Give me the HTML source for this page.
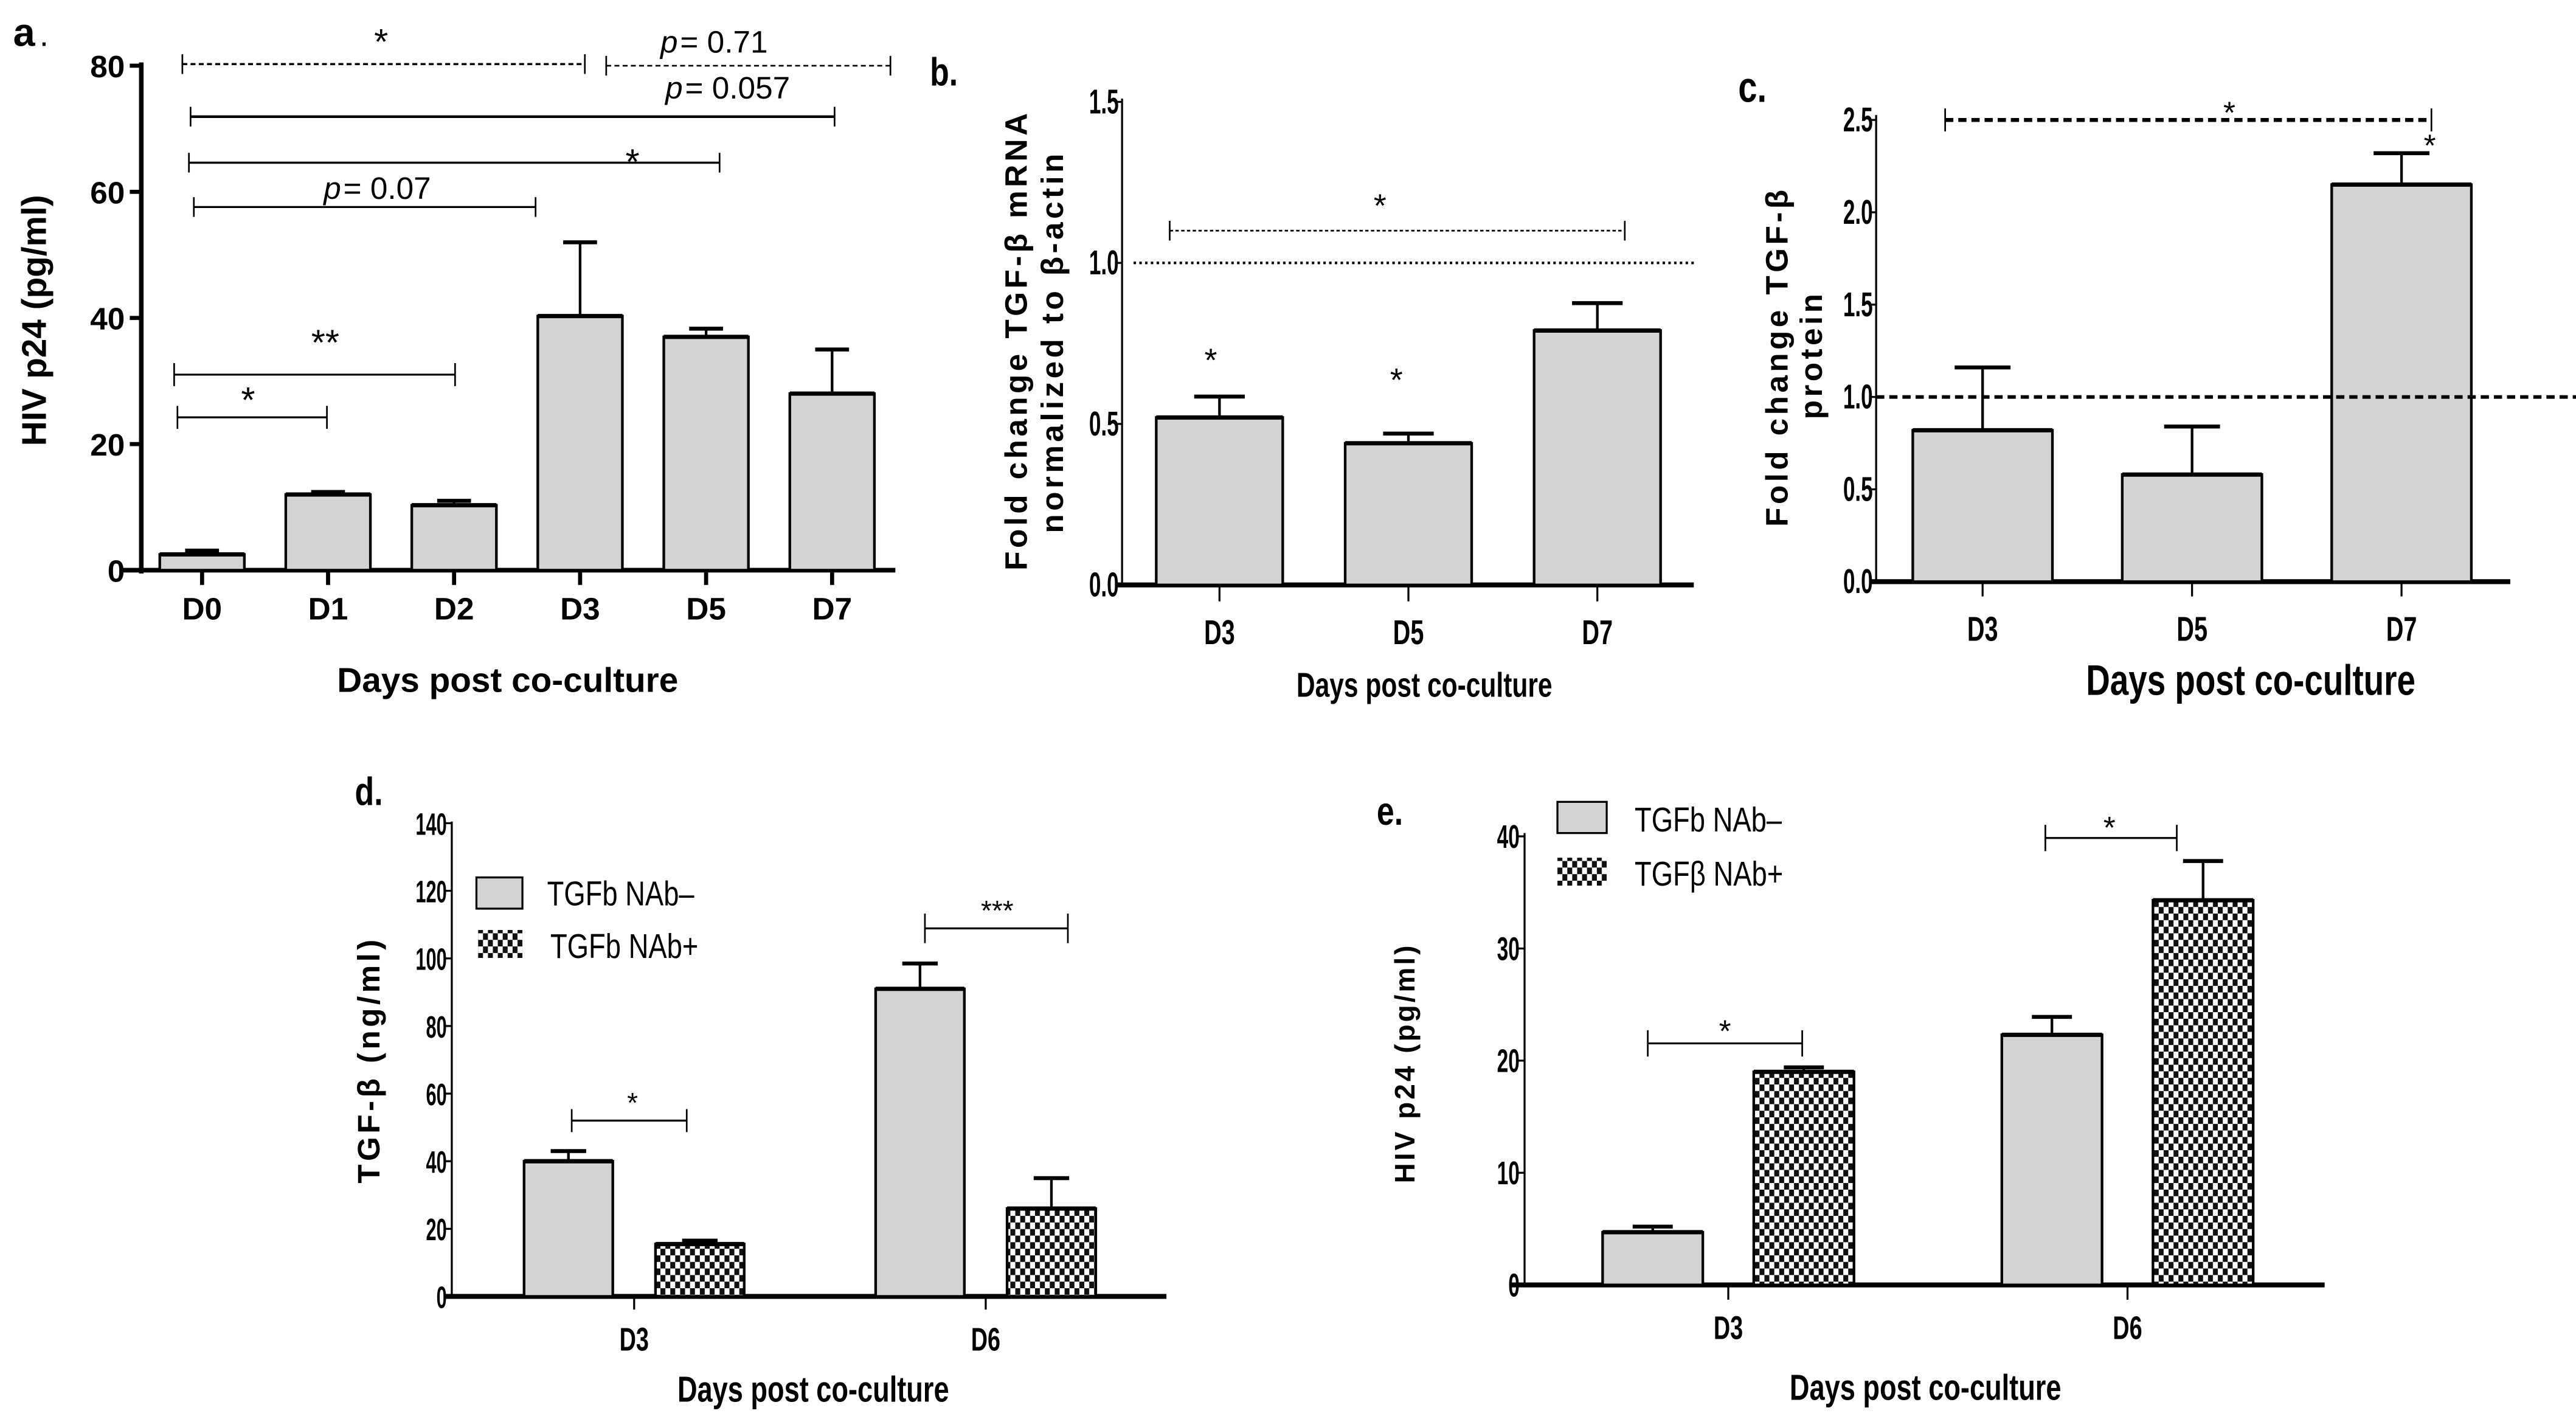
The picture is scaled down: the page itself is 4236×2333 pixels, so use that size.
<!DOCTYPE html>
<html><head><meta charset="utf-8"><style>
html,body{margin:0;padding:0;background:#fff;}
svg{display:block;}
text{font-family:"Liberation Sans",sans-serif;fill:#000;}
</style></head><body>
<svg id="fig" xmlns="http://www.w3.org/2000/svg" width="4236" height="2333" viewBox="0 0 1568 863.6" preserveAspectRatio="none">
<defs>
<pattern id="chk" width="6" height="8" patternUnits="userSpaceOnUse">
<rect width="6" height="8" fill="#fff"/><rect x="0" y="0" width="3" height="4" fill="#111"/><rect x="3" y="4" width="3" height="4" fill="#111"/>
</pattern>
</defs>
</svg>
<script>
// ---- Panel a data ----
const aCats = ["D0","D1","D2","D3","D5","D7"];
const aValues = [2.5, 12, 10.3, 40.3, 37, 28];
const aErrors = [3.1, 12.4, 11, 52, 38.3, 35];
const aTicks = [0,20,40,60,80];
// ---- Panel b data ----
const bCats = ["D3","D5","D7"];
const bValues = [0.52, 0.44, 0.79];
const bErrors = [0.585, 0.47, 0.875];
const bTicks = ["0.0","0.5","1.0","1.5"];
// ---- Panel c data ----
const cCats = ["D3","D5","D7"];
const cValues = [0.82, 0.58, 2.15];
const cErrors = [1.16, 0.84, 2.32];
const cTicks = ["0.0","0.5","1.0","1.5","2.0","2.5"];
// ---- Panel d data ----
const dCats = ["D3","D6"];
const dNeg = [40, 91];
const dNegErr = [43, 98.5];
const dPos = [15.5, 26];
const dPosErr = [16.5, 35];
const dTicks = [0,20,40,60,80,100,120,140];
// ---- Panel e data ----
const eCats = ["D3","D6"];
const eNeg = [4.7, 22.3];
const eNegErr = [5.2, 23.9];
const ePos = [19, 34.3];
const ePosErr = [19.4, 37.8];
const eTicks = [0,10,20,30,40];

const NS = "http://www.w3.org/2000/svg";
const svg = document.getElementById('fig');
function el(tag, attrs, parent, txt){
  const e = document.createElementNS(NS, tag);
  for (const k in attrs) e.setAttribute(k, attrs[k]);
  if (txt !== undefined) e.textContent = txt;
  (parent||svg).appendChild(e);
  return e;
}
function grp(name){
  const g = el('g', {});
  
  
  return g;
}
function txt(g, x, y, s, size, opts){
  opts = opts||{};
  const t = el('text', {x:x, y:y, 'font-size':size, 'text-anchor':opts.anchor||'middle', 'font-weight':opts.bold?'bold':'normal'}, g, s);
  if (opts.rot) t.setAttribute('transform', 'rotate(-90 '+x+' '+y+')');
  if (opts.sx) t.setAttribute('transform', 'translate('+x+' '+y+') scale('+opts.sx+' 1) translate('+(-x)+' '+(-y)+')');
  if (opts.ls) t.setAttribute('letter-spacing', opts.ls);
  if (opts.italic) t.setAttribute('font-style','italic');
  
  
  return t;
}
function line(g, x1,y1,x2,y2, w, dash, name){
  const l = el('line', {x1:x1,y1:y1,x2:x2,y2:y2,stroke:'#000','stroke-width':w}, g);
  if (dash) l.setAttribute('stroke-dasharray', dash);
  
  
  return l;
}
function scaleY(y0, yTop, max){ return v => y0 - v/max*(y0-yTop); }

function drawBar(g, cx, w, v, err, Y, fill, name){
  const r = el('rect', {x:cx-w/2, y:Y(v), width:w, height:Y(0)-Y(v), fill:fill, stroke:'#000','stroke-width':1.6}, g);
  
  
  line(g, cx-w/2, Y(v), cx+w/2, Y(v), 2.6, null, name+'-top');
  line(g, cx, Y(v), cx, Y(err), 1.6, null, name+'-error-bar');
  line(g, cx-w*0.2, Y(err), cx+w*0.2, Y(err), 2.4, null, name+'-error-cap');
}
function bracket(g, x1, x2, y, h, w, dash, name){
  line(g, x1, y, x2, y, w, dash, name);
  line(g, x1, y-h, x1, y+h, 1, null, name+'-tick-left');
  line(g, x2, y-h, x2, y+h, 1, null, name+'-tick-right');
}

// ===== Panel a =====
(function(){
  const g = grp('panel-a');
  const Y = scaleY(347, 40, 80);
  const axX = 86, x0 = 123, step = 76.7, bw = 51.5;
  txt(g, 8, 28, 'a', 24, {anchor:'start', bold:true, name:'panel-label-a'});
  txt(g, 24, 28, '.', 20, {anchor:'start', name:'panel-label-a-dot'});
  line(g, axX, 38, axX, 349, 2.8, null, 'y-axis');
  line(g, 74, 347, 545, 347, 2.8, null, 'x-axis');
  aTicks.forEach(t => {
    line(g, axX-7, Y(t), axX, Y(t), 2.5, null, 'y-tick');
    txt(g, axX-10, Y(t)+7, String(t), 19, {anchor:'end', bold:true, name:'y-tick-label'});
  });
  aCats.forEach((c,i) => {
    const cx = x0 + i*step;
    drawBar(g, cx, bw, aValues[i], aErrors[i], Y, '#d3d3d3', 'bar-'+c.toLowerCase());
    line(g, cx, 347, cx, 356, 2.5, null, 'x-tick');
    txt(g, cx, 377, c, 19, {bold:true, name:'x-tick-label'});
  });
  txt(g, 28, 195, 'HIV p24 (pg/ml)', 21, {bold:true, rot:true, name:'y-axis-title'});
  txt(g, 309, 421, 'Days post co-culture', 21, {bold:true, name:'x-axis-title'});
  bracket(g, 111, 356, 39, 6, 1.3, '3 2', 'sig-bracket-d0-d3');
  txt(g, 232, 33, '*', 22, {name:'sig-star'});
  bracket(g, 369, 542, 40, 6, 1, '3 2', 'sig-bracket-d3-d7');
  txt(g, 402, 32, 'p', 19, {italic:true, anchor:'start', name:'p-label'});
  txt(g, 414, 32, ' = 0.71', 19, {anchor:'start', name:'p-value'});
  bracket(g, 116, 508, 71, 6, 1.6, null, 'sig-bracket-d0-d7');
  txt(g, 405, 60, 'p', 19, {italic:true, anchor:'start', name:'p-label'});
  txt(g, 417, 60, ' = 0.057', 19, {anchor:'start', name:'p-value'});
  bracket(g, 115, 438, 99, 6, 1.3, null, 'sig-bracket-d0-d5');
  txt(g, 385, 106, '*', 22, {name:'sig-star'});
  bracket(g, 118, 326, 126, 6, 1.2, null, 'sig-bracket-d0-d3b');
  txt(g, 197, 121, 'p', 19, {italic:true, anchor:'start', name:'p-label'});
  txt(g, 209, 121, ' = 0.07', 19, {anchor:'start', name:'p-value'});
  bracket(g, 106, 277, 228, 7, 1.2, null, 'sig-bracket-d0-d2');
  txt(g, 198, 216, '**', 22, {name:'sig-star'});
  bracket(g, 108, 199, 254, 7, 1.2, null, 'sig-bracket-d0-d1');
  txt(g, 151, 251, '*', 22, {name:'sig-star'});
})();

// ===== Panel b =====
(function(){
  const g = grp('panel-b');
  const Y = scaleY(356, 62, 1.5);
  const axX = 683, x0 = 742.3, step = 115, bw = 77;
  txt(g, 566, 52, 'b.', 24, {anchor:'start', bold:true, sx:0.8, name:'panel-label-b'});
  line(g, axX, 60, axX, 357, 1.2, null, 'y-axis');
  line(g, 680, 356, 1031, 356, 3, null, 'x-axis');
  bTicks.forEach(t => {
    line(g, axX-4, Y(+t), axX, Y(+t), 1.2, null, 'y-tick');
    txt(g, axX-2, Y(+t)+7, t, 21, {anchor:'end', bold:true, sx:0.62, name:'y-tick-label'});
  });
  bCats.forEach((c,i) => {
    const cx = x0 + i*step;
    drawBar(g, cx, bw, bValues[i], bErrors[i], Y, '#d3d3d3', 'bar-'+c.toLowerCase());
    line(g, cx, 356, cx, 366, 1.2, null, 'x-tick');
    txt(g, cx, 392, c, 21, {bold:true, sx:0.7, name:'x-tick-label'});
  });
  line(g, 690, Y(1.0), 1031, Y(1.0), 1.6, '1.5 2', 'reference-line');
  bracket(g, 712, 989, Y(1.1), 6, 1, '2 1.5', 'sig-bracket-d3-d7');
  txt(g, 840, 132, '*', 20, {name:'sig-star'});
  txt(g, 737, 226, '*', 20, {name:'sig-star'});
  txt(g, 850, 238, '*', 20, {name:'sig-star'});
  txt(g, 625, 207, 'Fold change TGF-β mRNA', 19, {bold:true, rot:true, ls:2, name:'y-axis-title'});
  txt(g, 647, 208, 'normalized to β-actin', 19, {bold:true, rot:true, ls:2, name:'y-axis-title-line2'});
  txt(g, 867, 424, 'Days post co-culture', 21, {bold:true, sx:0.75, name:'x-axis-title'});
})();

// ===== Panel c =====
(function(){
  const g = grp('panel-c');
  const Y = scaleY(354, 73, 2.5);
  const axX = 1142, x0 = 1206.8, step = 127.5, bw = 85;
  txt(g, 1058, 62, 'c.', 26, {anchor:'start', bold:true, sx:0.8, name:'panel-label-c'});
  line(g, axX, 70, axX, 355, 1.2, null, 'y-axis');
  line(g, 1138, 354, 1528, 354, 3, null, 'x-axis');
  cTicks.forEach(t => {
    line(g, axX-4, Y(+t), axX, Y(+t), 1.2, null, 'y-tick');
    txt(g, axX-2, Y(+t)+7, t, 21, {anchor:'end', bold:true, sx:0.62, name:'y-tick-label'});
  });
  cCats.forEach((c,i) => {
    const cx = x0 + i*step;
    drawBar(g, cx, bw, cValues[i], cErrors[i], Y, '#d3d3d3', 'bar-'+c.toLowerCase());
    line(g, cx, 354, cx, 363, 1.2, null, 'x-tick');
    txt(g, cx, 390, c, 21, {bold:true, sx:0.7, name:'x-tick-label'});
  });
  line(g, 1142, Y(1.0), 1568, Y(1.0), 2.2, '5 3', 'reference-line');
  bracket(g, 1184, 1480, Y(2.5), 7, 2.4, '5 3', 'sig-bracket-d3-d7');
  txt(g, 1357, 75, '*', 19, {name:'sig-star'});
  txt(g, 1479, 95, '*', 19, {name:'sig-star'});
  txt(g, 1088, 217, 'Fold change TGF-β', 19, {bold:true, rot:true, ls:2, name:'y-axis-title'});
  txt(g, 1109, 216, 'protein', 19, {bold:true, rot:true, ls:2, name:'y-axis-title-line2'});
  txt(g, 1370, 423, 'Days post co-culture', 26, {bold:true, sx:0.78, name:'x-axis-title'});
})();

// ===== Panel d =====
(function(){
  const g = grp('panel-d');
  const Y = scaleY(789, 501, 140);
  const axX = 275, g0 = 386, gstep = 214, off = 40, bw = 54;
  txt(g, 216, 490, 'd.', 24, {anchor:'start', bold:true, sx:0.8, name:'panel-label-d'});
  line(g, axX, 500, axX, 790, 1.2, null, 'y-axis');
  line(g, 270, 789, 710, 789, 3, null, 'x-axis');
  dTicks.forEach(t => {
    line(g, axX-4, Y(t), axX, Y(t), 1.2, null, 'y-tick');
    txt(g, axX-3, Y(t)+7, String(t), 19, {anchor:'end', bold:true, sx:0.6, name:'y-tick-label'});
  });
  dCats.forEach((c,i) => {
    const cx = g0 + i*gstep;
    drawBar(g, cx-off, bw, dNeg[i], dNegErr[i], Y, '#d3d3d3', 'bar-nab-neg-'+c.toLowerCase());
    drawBar(g, cx+off, bw, dPos[i], dPosErr[i], Y, 'url(#chk)', 'bar-nab-pos-'+c.toLowerCase());
    line(g, cx, 789, cx, 797, 1.2, null, 'x-tick');
    txt(g, cx, 822, c, 20, {bold:true, sx:0.7, name:'x-tick-label'});
  });
  bracket(g, 348, 418, 682, 7, 1.2, null, 'sig-bracket-d3');
  txt(g, 385, 677, '*', 17, {name:'sig-star'});
  bracket(g, 563, 650, 565, 9, 1.2, null, 'sig-bracket-d6');
  txt(g, 607, 560, '***', 17, {name:'sig-star'});
  const l1 = el('rect', {x:290, y:534, width:28, height:19, fill:'#d3d3d3', stroke:'#000','stroke-width':1.2}, g);
  
  
  txt(g, 333, 551, 'TGFb NAb–', 21, {anchor:'start', sx:0.8, name:'legend-entry-nab-neg'});
  const l2 = el('rect', {x:291, y:566, width:27, height:17, fill:'url(#chk)'}, g);
  
  
  txt(g, 335, 583, 'TGFb NAb+', 21, {anchor:'start', sx:0.8, name:'legend-entry-nab-pos'});
  txt(g, 231, 645, 'TGF-β (ng/ml)', 19, {bold:true, rot:true, ls:2, name:'y-axis-title'});
  txt(g, 495, 853, 'Days post co-culture', 22, {bold:true, sx:0.76, name:'x-axis-title'});
})();

// ===== Panel e =====
(function(){
  const g = grp('panel-e');
  const Y = scaleY(782, 509, 40);
  const axX = 928, g0 = 1052, gstep = 243, off = 46, bw = 61;
  txt(g, 838, 502, 'e.', 24, {anchor:'start', bold:true, sx:0.8, name:'panel-label-e'});
  line(g, axX, 507, axX, 783, 1.2, null, 'y-axis');
  line(g, 920, 782, 1415, 782, 3, null, 'x-axis');
  eTicks.forEach(t => {
    line(g, axX-4, Y(t), axX, Y(t), 1.2, null, 'y-tick');
    txt(g, axX-3, Y(t)+7, String(t), 20, {anchor:'end', bold:true, sx:0.62, name:'y-tick-label'});
  });
  eCats.forEach((c,i) => {
    const cx = g0 + i*gstep;
    drawBar(g, cx-off, bw, eNeg[i], eNegErr[i], Y, '#d3d3d3', 'bar-nab-neg-'+c.toLowerCase());
    drawBar(g, cx+off, bw, ePos[i], ePosErr[i], Y, 'url(#chk)', 'bar-nab-pos-'+c.toLowerCase());
    line(g, cx, 782, cx, 791, 1.2, null, 'x-tick');
    txt(g, cx, 815, c, 20, {bold:true, sx:0.7, name:'x-tick-label'});
  });
  bracket(g, 1003, 1097, 635, 8, 1.2, null, 'sig-bracket-d3');
  txt(g, 1050, 634, '*', 19, {name:'sig-star'});
  bracket(g, 1245, 1325, 510, 8, 1.2, null, 'sig-bracket-d6');
  txt(g, 1284, 510, '*', 19, {name:'sig-star'});
  const l1 = el('rect', {x:948, y:488, width:30, height:19, fill:'#d3d3d3', stroke:'#000','stroke-width':1.2}, g);
  
  
  txt(g, 995, 506, 'TGFb NAb–', 21, {anchor:'start', sx:0.8, name:'legend-entry-nab-neg'});
  const l2 = el('rect', {x:948, y:522, width:30, height:17, fill:'url(#chk)'}, g);
  
  
  txt(g, 995, 539, 'TGFβ NAb+', 21, {anchor:'start', sx:0.8, name:'legend-entry-nab-pos'});
  txt(g, 861, 647, 'HIV p24 (pg/ml)', 17, {bold:true, rot:true, ls:1.5, name:'y-axis-title'});
  txt(g, 1172, 852, 'Days post co-culture', 22, {bold:true, sx:0.76, name:'x-axis-title'});
})();
</script>
</body></html>
